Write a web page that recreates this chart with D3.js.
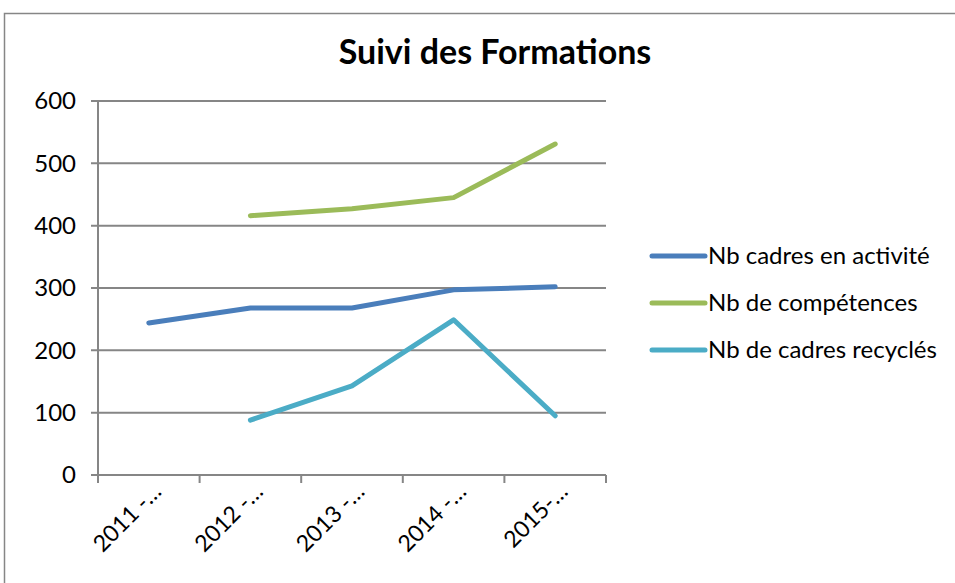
<!DOCTYPE html>
<html>
<head>
<meta charset="utf-8">
<script src="https://cdn.jsdelivr.net/npm/d3@7"></script>
<style>
  body { margin: 0; background: #fff; }
  svg { font-family: Lato, "Open Sans", sans-serif; }
</style>
</head>
<body>
<svg id="chart" width="955" height="583"></svg>
<script>
let categories = ["2011 -…", "2012 -…", "2013 -…", "2014 -…", "2015-…"];
let seriesNames = ["Nb cadres en activité", "Nb de compétences", "Nb de cadres recyclés"];
let cadres = [244, 268, 268, 297, 302];
let competences = [null, 416, 427, 445, 531];
let recycles = [null, 88, 143, 249, 95];
let yTicks = [0, 100, 200, 300, 400, 500, 600];
let colors = ["#4a7ebb", "#9bbb59", "#4bacc6"];

let margin = {top: 101, left: 98};
let plotW = 508, plotH = 374;

let svg = d3.select("#chart");

// outer frame
svg.append("rect")
  .attr("x", 4.5).attr("y", 13.5)
  .attr("width", 960).attr("height", 600)
  .attr("fill", "none").attr("stroke", "#868686").attr("stroke-width", 1.5);

svg.append("text")
  .attr("x", 495).attr("y", 64)
  .attr("text-anchor", "middle")
  .attr("font-size", 34).attr("font-weight", "bold")
  .text("Suivi des Formations");

let x = d3.scaleBand().domain(categories).range([0, plotW]);
let y = d3.scaleLinear().domain([0, 600]).range([plotH, 0]);

let g = svg.append("g").attr("transform", `translate(${margin.left},${margin.top})`);

// gridlines
g.selectAll("line.grid")
  .data(yTicks)
  .enter()
  .append("line")
  .attr("class", "grid")
  .attr("x1", -7).attr("x2", plotW)
  .attr("y1", d => y(d)).attr("y2", d => y(d))
  .attr("stroke", "#868686").attr("stroke-width", 2);

g.selectAll("text.ylab")
  .data(yTicks)
  .enter()
  .append("text")
  .attr("class", "ylab")
  .attr("x", -22).attr("y", d => y(d))
  .attr("dy", "0.35em")
  .attr("text-anchor", "end")
  .attr("font-size", 24)
  .text(d => d);

// y axis line
g.append("line")
  .attr("x1", 0).attr("x2", 0).attr("y1", 0).attr("y2", plotH)
  .attr("stroke", "#868686").attr("stroke-width", 2);

// x tick marks at band boundaries
let bounds = categories.map(c => x(c)).concat([plotW]);
g.selectAll("line.xtick")
  .data(bounds)
  .enter()
  .append("line")
  .attr("class", "xtick")
  .attr("x1", d => d).attr("x2", d => d)
  .attr("y1", plotH).attr("y2", plotH + 8)
  .attr("stroke", "#868686").attr("stroke-width", 2);

g.selectAll("text.xlab")
  .data(categories)
  .enter()
  .append("text")
  .attr("class", "xlab")
  .attr("font-size", 23)
  .attr("text-anchor", "end")
  .attr("transform", d => `translate(${x(d) + x.bandwidth() / 2 + 14},${plotH + 18}) rotate(-45)`)
  .text(d => d);

let allSeries = [cadres, competences, recycles];
let line = d3.line()
  .defined(d => d != null)
  .x((d, i) => x(categories[i]) + x.bandwidth() / 2)
  .y(d => y(d));

g.selectAll("path.series")
  .data(allSeries)
  .enter()
  .append("path")
  .attr("class", "series")
  .attr("d", line)
  .attr("fill", "none")
  .attr("stroke", (d, i) => colors[i])
  .attr("stroke-width", 5)
  .attr("stroke-linecap", "round")
  .attr("stroke-linejoin", "round");

// legend
let legend = svg.append("g").attr("transform", "translate(652,256)");
let items = legend.selectAll("g")
  .data(seriesNames)
  .enter()
  .append("g")
  .attr("transform", (d, i) => `translate(0,${i * 47})`);
items.append("line")
  .attr("x1", 0).attr("x2", 53)
  .attr("stroke", (d, i) => colors[i])
  .attr("stroke-width", 5)
  .attr("stroke-linecap", "round");
items.append("text")
  .attr("x", 56).attr("dy", "0.35em")
  .attr("font-size", 24)
  .text(d => d);
</script>
</body>
</html>
